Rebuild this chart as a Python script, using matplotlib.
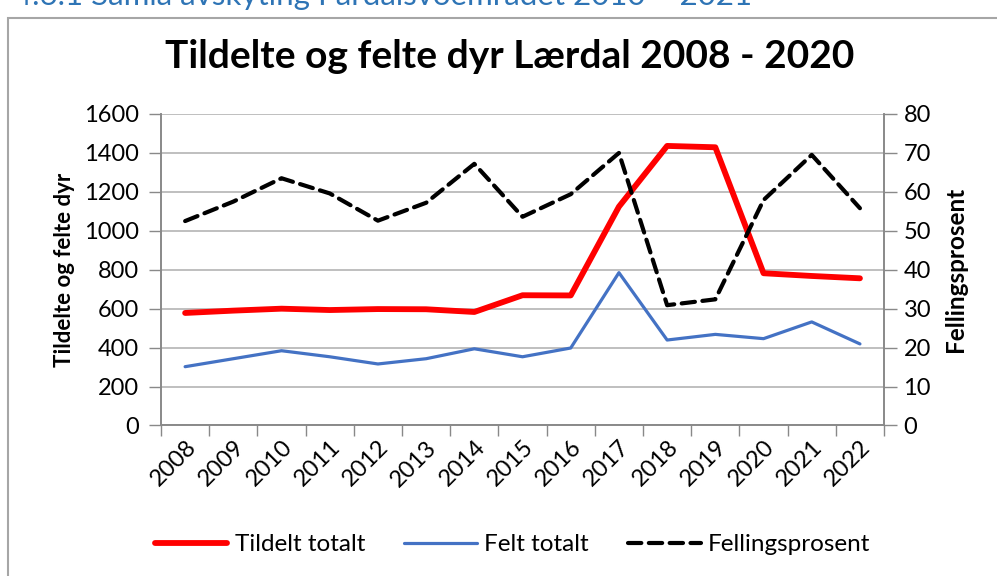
import matplotlib.pyplot as plt
import matplotlib.patches as mpatches
import numpy as np

plt.rcParams["font.family"] = ["Lato", "DejaVu Sans"]

years = [str(y) for y in range(2008, 2023)]
tildelt = [578, 590, 600, 593, 598, 597, 583, 669, 668, 1124, 1436, 1429, 782, 768, 756]
felt = [302, 343, 384, 353, 316, 343, 394, 353, 398, 785, 439, 468, 446, 532, 419]
fellingsprosent = [52.5, 57.5, 63.5, 59.6, 52.6, 57.2, 67.2, 53.6, 59.4, 70.0, 30.9, 32.4, 57.9, 69.5, 55.8]

RED = "#FF0000"
BLUE = "#4472C4"
GRID = "#B4B4B4"
SPINE = "#898989"
HEAD = "#2E74B5"

fig = plt.figure(figsize=(9.97, 5.76), dpi=100)
ax = fig.add_axes([0.1615, 0.2613, 0.7252, 0.5408])
ax2 = ax.twinx()

x = np.arange(len(years))
l1, = ax.plot(x, tildelt, color=RED, lw=4.2, solid_capstyle="round", solid_joinstyle="round",
              label="Tildelt totalt", zorder=4)
l2, = ax.plot(x, felt, color=BLUE, lw=2.3, solid_capstyle="round", label="Felt totalt", zorder=3)
l3, = ax2.plot(x, fellingsprosent, color="black", lw=3.0, ls=(0, (3.2, 1.8)),
               dash_capstyle="round", label="Fellingsprosent", zorder=5)

ax.set_xlim(-0.5, len(years) - 0.5)
ax.set_ylim(0, 1600)
ax2.set_ylim(0, 80)
ax.set_yticks(range(0, 1601, 200))
ax2.set_yticks(range(0, 81, 10))

ax.set_xticks(x)
ax.set_xticklabels(years, rotation=45, ha="right", rotation_mode="anchor", fontsize=17)
ax.set_xticks(np.arange(-0.5, len(years)), minor=True)
ax.tick_params(axis="x", which="major", length=0, pad=8)
ax.tick_params(axis="x", which="minor", length=8, color=SPINE, width=1)
ax.tick_params(axis="y", length=9, color=SPINE, width=1, labelsize=17, pad=7)
ax2.tick_params(axis="y", length=9, color=SPINE, width=1, labelsize=17, pad=5)

ax.grid(axis="y", color=GRID, lw=1.2)
ax.set_axisbelow(True)
for a in (ax, ax2):
    a.spines["top"].set_visible(False)
    for s in ("left", "right", "bottom"):
        a.spines[s].set_color(SPINE)
        a.spines[s].set_linewidth(1.2)
ax2.set_zorder(ax.get_zorder() + 1)
ax2.patch.set_visible(False)

ax.set_ylabel("Tildelte og felte dyr", fontsize=16, fontweight="bold", labelpad=6)
ax2.set_ylabel("Fellingsprosent", fontsize=17.5, fontweight="bold", labelpad=9)

fig.text(0.511, 0.902, "Tildelte og felte dyr Lærdal 2008 - 2020", ha="center", va="center",
         fontsize=28, fontweight="bold")

fig.legend(handles=[l1, l2, l3], loc="center", bbox_to_anchor=(0.514, 0.054), ncol=3,
           frameon=False, fontsize=17.5, handlelength=3.0, columnspacing=1.6, handletextpad=0.3)

# chart frame and the cut-off caption above it
fig.patches.append(mpatches.Rectangle((8 / 997, -0.1), 1.2, 1 - 18 / 576 + 0.1,
                                      transform=fig.transFigure, fill=False,
                                      edgecolor="#A6A6A6", lw=1.5))
fig.text(14 / 997, 1 - 5 / 576, "4.6.1 Samla avskyting Fardalsvoemrådet 2010 – 2021",
         ha="left", va="baseline", fontsize=22.5, color=HEAD)

fig.savefig("out.png", dpi=100)
